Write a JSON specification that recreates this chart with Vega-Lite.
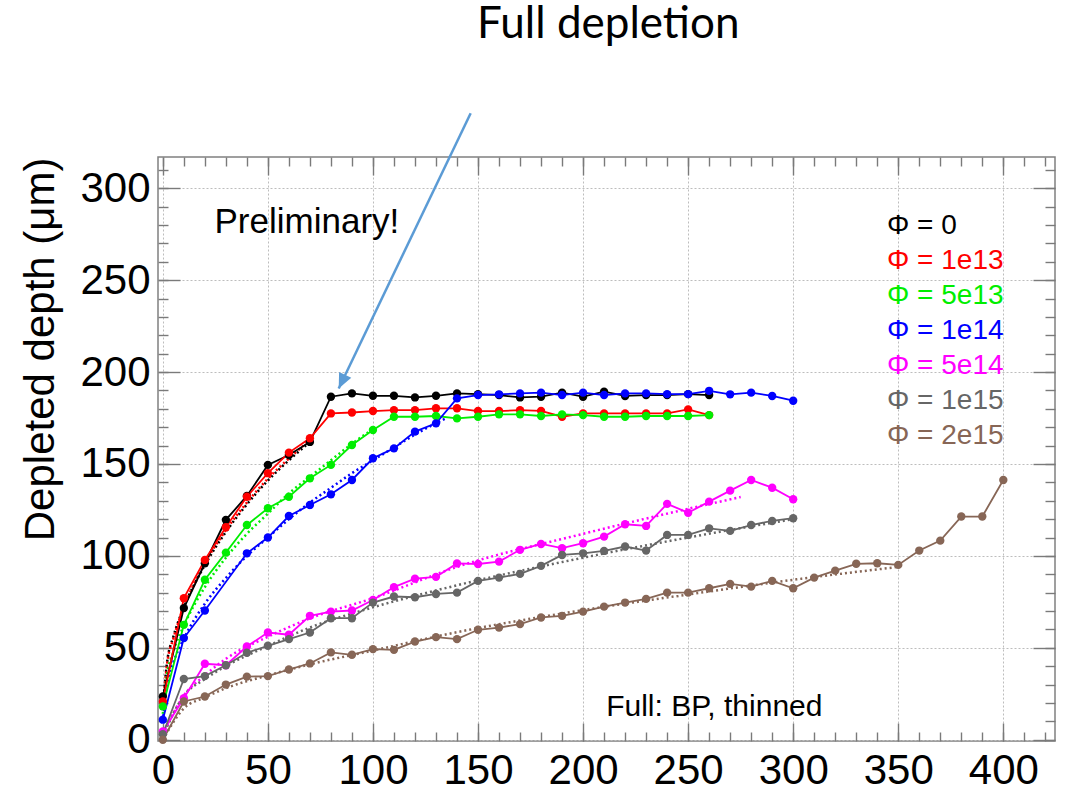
{
  "$schema": "https://vega.github.io/schema/vega-lite/v6.json",
  "width": 897,
  "height": 584,
  "autosize": "none",
  "padding": {"left": 158, "top": 157, "right": 16, "bottom": 48},
  "background": "white",
  "config": {
    "view": {"stroke": "#808080", "strokeWidth": 1.5},
    "font": "Liberation Sans",
    "axis": {"domain": false, "tickColor": "#7a7a7a", "tickWidth": 1.4, "labelFlush": false, "labelOverlap": false, "labelBound": false, "gridColor": "#bdbdbd", "gridDash": [2, 2], "gridWidth": 1}
  },
  "datasets": {
    "meas": [
      {"s":"Φ = 0","x":0,"y":23.5},{"s":"Φ = 0","x":10,"y":71.6},{"s":"Φ = 0","x":20,"y":96},{"s":"Φ = 0","x":30,"y":119.6},{"s":"Φ = 0","x":40,"y":132.6},{"s":"Φ = 0","x":50,"y":149.5},{"s":"Φ = 0","x":60,"y":154.9},{"s":"Φ = 0","x":70,"y":162},{"s":"Φ = 0","x":80,"y":186.6},{"s":"Φ = 0","x":90,"y":188.4},{"s":"Φ = 0","x":100,"y":187.1},{"s":"Φ = 0","x":110,"y":187.1},{"s":"Φ = 0","x":120,"y":186.2},{"s":"Φ = 0","x":130,"y":187.1},{"s":"Φ = 0","x":140,"y":188.4},{"s":"Φ = 0","x":150,"y":188},{"s":"Φ = 0","x":160,"y":187.5},{"s":"Φ = 0","x":170,"y":186.2},{"s":"Φ = 0","x":180,"y":186.6},{"s":"Φ = 0","x":190,"y":188.8},{"s":"Φ = 0","x":200,"y":186.6},{"s":"Φ = 0","x":210,"y":189.3},{"s":"Φ = 0","x":220,"y":187},{"s":"Φ = 0","x":230,"y":187.5},{"s":"Φ = 0","x":240,"y":187.5},{"s":"Φ = 0","x":250,"y":188},{"s":"Φ = 0","x":260,"y":187.5},
      {"s":"Φ = 1e13","x":0,"y":20.8},{"s":"Φ = 1e13","x":10,"y":77},{"s":"Φ = 1e13","x":20,"y":97.8},{"s":"Φ = 1e13","x":30,"y":115.6},{"s":"Φ = 1e13","x":40,"y":132.2},{"s":"Φ = 1e13","x":50,"y":145},{"s":"Φ = 1e13","x":60,"y":156.2},{"s":"Φ = 1e13","x":70,"y":164},{"s":"Φ = 1e13","x":80,"y":177.5},{"s":"Φ = 1e13","x":90,"y":178},{"s":"Φ = 1e13","x":100,"y":178.8},{"s":"Φ = 1e13","x":110,"y":179.3},{"s":"Φ = 1e13","x":120,"y":179.3},{"s":"Φ = 1e13","x":130,"y":180.3},{"s":"Φ = 1e13","x":140,"y":180.3},{"s":"Φ = 1e13","x":150,"y":178.8},{"s":"Φ = 1e13","x":160,"y":178.8},{"s":"Φ = 1e13","x":170,"y":179.3},{"s":"Φ = 1e13","x":180,"y":178.9},{"s":"Φ = 1e13","x":190,"y":175.7},{"s":"Φ = 1e13","x":200,"y":177.5},{"s":"Φ = 1e13","x":210,"y":177.5},{"s":"Φ = 1e13","x":220,"y":177.5},{"s":"Φ = 1e13","x":230,"y":177.5},{"s":"Φ = 1e13","x":240,"y":177.5},{"s":"Φ = 1e13","x":250,"y":179.7},{"s":"Φ = 1e13","x":260,"y":176.6},
      {"s":"Φ = 5e13","x":0,"y":18.1},{"s":"Φ = 5e13","x":10,"y":62.5},{"s":"Φ = 5e13","x":20,"y":87},{"s":"Φ = 5e13","x":30,"y":101.8},{"s":"Φ = 5e13","x":40,"y":116.8},{"s":"Φ = 5e13","x":50,"y":125.9},{"s":"Φ = 5e13","x":60,"y":132.2},{"s":"Φ = 5e13","x":70,"y":142.2},{"s":"Φ = 5e13","x":80,"y":149.5},{"s":"Φ = 5e13","x":90,"y":160.3},{"s":"Φ = 5e13","x":100,"y":168.5},{"s":"Φ = 5e13","x":110,"y":175.7},{"s":"Φ = 5e13","x":120,"y":175.7},{"s":"Φ = 5e13","x":130,"y":176.1},{"s":"Φ = 5e13","x":140,"y":174.8},{"s":"Φ = 5e13","x":150,"y":175.7},{"s":"Φ = 5e13","x":160,"y":177},{"s":"Φ = 5e13","x":170,"y":177},{"s":"Φ = 5e13","x":180,"y":176.1},{"s":"Φ = 5e13","x":190,"y":177},{"s":"Φ = 5e13","x":200,"y":176.6},{"s":"Φ = 5e13","x":210,"y":175.7},{"s":"Φ = 5e13","x":220,"y":175.7},{"s":"Φ = 5e13","x":230,"y":176.1},{"s":"Φ = 5e13","x":240,"y":176.1},{"s":"Φ = 5e13","x":250,"y":176.1},{"s":"Φ = 5e13","x":260,"y":176.6},
      {"s":"Φ = 1e14","x":0,"y":10.9},{"s":"Φ = 1e14","x":10,"y":55.3},{"s":"Φ = 1e14","x":20,"y":70.3},{"s":"Φ = 1e14","x":40,"y":101.4},{"s":"Φ = 1e14","x":50,"y":110},{"s":"Φ = 1e14","x":60,"y":121.7},{"s":"Φ = 1e14","x":70,"y":127.7},{"s":"Φ = 1e14","x":80,"y":133.5},{"s":"Φ = 1e14","x":90,"y":141.3},{"s":"Φ = 1e14","x":100,"y":153.1},{"s":"Φ = 1e14","x":110,"y":158.5},{"s":"Φ = 1e14","x":120,"y":167.6},{"s":"Φ = 1e14","x":130,"y":172.1},{"s":"Φ = 1e14","x":140,"y":185.7},{"s":"Φ = 1e14","x":150,"y":187.5},{"s":"Φ = 1e14","x":160,"y":187.9},{"s":"Φ = 1e14","x":170,"y":188.4},{"s":"Φ = 1e14","x":180,"y":188.8},{"s":"Φ = 1e14","x":190,"y":187.5},{"s":"Φ = 1e14","x":200,"y":188.8},{"s":"Φ = 1e14","x":210,"y":187.5},{"s":"Φ = 1e14","x":220,"y":188.4},{"s":"Φ = 1e14","x":230,"y":188.4},{"s":"Φ = 1e14","x":240,"y":188},{"s":"Φ = 1e14","x":250,"y":188},{"s":"Φ = 1e14","x":260,"y":189.8},{"s":"Φ = 1e14","x":270,"y":187.9},{"s":"Φ = 1e14","x":280,"y":188.8},{"s":"Φ = 1e14","x":290,"y":187},{"s":"Φ = 1e14","x":300,"y":184.4},
      {"s":"Φ = 5e14","x":0,"y":4.5},{"s":"Φ = 5e14","x":10,"y":22.6},{"s":"Φ = 5e14","x":20,"y":41.3},{"s":"Φ = 5e14","x":30,"y":40.5},{"s":"Φ = 5e14","x":40,"y":50.7},{"s":"Φ = 5e14","x":50,"y":58.3},{"s":"Φ = 5e14","x":60,"y":57.1},{"s":"Φ = 5e14","x":70,"y":67.4},{"s":"Φ = 5e14","x":80,"y":69.7},{"s":"Φ = 5e14","x":90,"y":70.3},{"s":"Φ = 5e14","x":100,"y":76},{"s":"Φ = 5e14","x":110,"y":83},{"s":"Φ = 5e14","x":120,"y":87.6},{"s":"Φ = 5e14","x":130,"y":88.6},{"s":"Φ = 5e14","x":140,"y":95.9},{"s":"Φ = 5e14","x":150,"y":95.6},{"s":"Φ = 5e14","x":160,"y":96.9},{"s":"Φ = 5e14","x":170,"y":103.3},{"s":"Φ = 5e14","x":180,"y":106.5},{"s":"Φ = 5e14","x":190,"y":104.2},{"s":"Φ = 5e14","x":200,"y":106.9},{"s":"Φ = 5e14","x":210,"y":110.5},{"s":"Φ = 5e14","x":220,"y":117.2},{"s":"Φ = 5e14","x":230,"y":116.3},{"s":"Φ = 5e14","x":240,"y":128.3},{"s":"Φ = 5e14","x":250,"y":123.5},{"s":"Φ = 5e14","x":260,"y":129.5},{"s":"Φ = 5e14","x":270,"y":135.5},{"s":"Φ = 5e14","x":280,"y":141.3},{"s":"Φ = 5e14","x":290,"y":137.1},{"s":"Φ = 5e14","x":300,"y":130.8},
      {"s":"Φ = 1e15","x":0,"y":3},{"s":"Φ = 1e15","x":10,"y":33},{"s":"Φ = 1e15","x":20,"y":34.6},{"s":"Φ = 1e15","x":30,"y":40.5},{"s":"Φ = 1e15","x":40,"y":47.3},{"s":"Φ = 1e15","x":50,"y":51.1},{"s":"Φ = 1e15","x":60,"y":54.7},{"s":"Φ = 1e15","x":70,"y":58.3},{"s":"Φ = 1e15","x":80,"y":66.1},{"s":"Φ = 1e15","x":90,"y":66.1},{"s":"Φ = 1e15","x":100,"y":74.6},{"s":"Φ = 1e15","x":110,"y":77.9},{"s":"Φ = 1e15","x":120,"y":77.5},{"s":"Φ = 1e15","x":130,"y":79.3},{"s":"Φ = 1e15","x":140,"y":80},{"s":"Φ = 1e15","x":150,"y":86.4},{"s":"Φ = 1e15","x":160,"y":88.2},{"s":"Φ = 1e15","x":170,"y":90.2},{"s":"Φ = 1e15","x":180,"y":94.6},{"s":"Φ = 1e15","x":190,"y":100.5},{"s":"Φ = 1e15","x":200,"y":101.4},{"s":"Φ = 1e15","x":210,"y":102.7},{"s":"Φ = 1e15","x":220,"y":105.1},{"s":"Φ = 1e15","x":230,"y":102.9},{"s":"Φ = 1e15","x":240,"y":111.4},{"s":"Φ = 1e15","x":250,"y":111.4},{"s":"Φ = 1e15","x":260,"y":115},{"s":"Φ = 1e15","x":270,"y":113.6},{"s":"Φ = 1e15","x":280,"y":116.8},{"s":"Φ = 1e15","x":290,"y":119},{"s":"Φ = 1e15","x":300,"y":120.5},
      {"s":"Φ = 2e15","x":0,"y":0},{"s":"Φ = 2e15","x":10,"y":20.8},{"s":"Φ = 2e15","x":20,"y":23.5},{"s":"Φ = 2e15","x":30,"y":30},{"s":"Φ = 2e15","x":40,"y":34.3},{"s":"Φ = 2e15","x":50,"y":34.6},{"s":"Φ = 2e15","x":60,"y":38.2},{"s":"Φ = 2e15","x":70,"y":41.5},{"s":"Φ = 2e15","x":80,"y":47.5},{"s":"Φ = 2e15","x":90,"y":46.2},{"s":"Φ = 2e15","x":100,"y":49.3},{"s":"Φ = 2e15","x":110,"y":48.9},{"s":"Φ = 2e15","x":120,"y":53.4},{"s":"Φ = 2e15","x":130,"y":55.8},{"s":"Φ = 2e15","x":140,"y":54.7},{"s":"Φ = 2e15","x":150,"y":59.8},{"s":"Φ = 2e15","x":160,"y":61},{"s":"Φ = 2e15","x":170,"y":62.9},{"s":"Φ = 2e15","x":180,"y":66.5},{"s":"Φ = 2e15","x":190,"y":67.4},{"s":"Φ = 2e15","x":200,"y":69.7},{"s":"Φ = 2e15","x":210,"y":72.4},{"s":"Φ = 2e15","x":220,"y":74.6},{"s":"Φ = 2e15","x":230,"y":76.6},{"s":"Φ = 2e15","x":240,"y":80},{"s":"Φ = 2e15","x":250,"y":80},{"s":"Φ = 2e15","x":260,"y":82.4},{"s":"Φ = 2e15","x":270,"y":84.8},{"s":"Φ = 2e15","x":280,"y":83.3},{"s":"Φ = 2e15","x":290,"y":86.4},{"s":"Φ = 2e15","x":300,"y":82.4},{"s":"Φ = 2e15","x":310,"y":88.2},{"s":"Φ = 2e15","x":320,"y":92},{"s":"Φ = 2e15","x":330,"y":95.7},{"s":"Φ = 2e15","x":340,"y":96},{"s":"Φ = 2e15","x":350,"y":95.1},{"s":"Φ = 2e15","x":360,"y":102.9},{"s":"Φ = 2e15","x":370,"y":108.3},{"s":"Φ = 2e15","x":380,"y":121.4},{"s":"Φ = 2e15","x":390,"y":121.4},{"s":"Φ = 2e15","x":400,"y":141.3}
    ],
    "fit": [
      {"s":"Φ = 0","x":0,"y":18},{"s":"Φ = 0","x":2,"y":42},{"s":"Φ = 0","x":5,"y":56},{"s":"Φ = 0","x":10,"y":72},{"s":"Φ = 0","x":20,"y":95},{"s":"Φ = 0","x":30,"y":113},{"s":"Φ = 0","x":40,"y":128},{"s":"Φ = 0","x":50,"y":141},{"s":"Φ = 0","x":60,"y":152},{"s":"Φ = 0","x":70,"y":162},
      {"s":"Φ = 1e13","x":0,"y":17},{"s":"Φ = 1e13","x":2,"y":41},{"s":"Φ = 1e13","x":5,"y":55},{"s":"Φ = 1e13","x":10,"y":72},{"s":"Φ = 1e13","x":20,"y":96},{"s":"Φ = 1e13","x":30,"y":114},{"s":"Φ = 1e13","x":40,"y":129},{"s":"Φ = 1e13","x":50,"y":142},{"s":"Φ = 1e13","x":60,"y":153},{"s":"Φ = 1e13","x":70,"y":163},
      {"s":"Φ = 5e13","x":0,"y":14},{"s":"Φ = 5e13","x":2,"y":35},{"s":"Φ = 5e13","x":5,"y":48},{"s":"Φ = 5e13","x":10,"y":62},{"s":"Φ = 5e13","x":20,"y":83},{"s":"Φ = 5e13","x":30,"y":99},{"s":"Φ = 5e13","x":40,"y":112},{"s":"Φ = 5e13","x":50,"y":123},{"s":"Φ = 5e13","x":60,"y":134},{"s":"Φ = 5e13","x":70,"y":143},{"s":"Φ = 5e13","x":80,"y":152},{"s":"Φ = 5e13","x":90,"y":161},{"s":"Φ = 5e13","x":100,"y":169},
      {"s":"Φ = 1e14","x":0,"y":10},{"s":"Φ = 1e14","x":2,"y":30},{"s":"Φ = 1e14","x":5,"y":42},{"s":"Φ = 1e14","x":10,"y":55},{"s":"Φ = 1e14","x":20,"y":74},{"s":"Φ = 1e14","x":30,"y":88},{"s":"Φ = 1e14","x":40,"y":100},{"s":"Φ = 1e14","x":50,"y":110},{"s":"Φ = 1e14","x":60,"y":120},{"s":"Φ = 1e14","x":70,"y":129},{"s":"Φ = 1e14","x":80,"y":137},{"s":"Φ = 1e14","x":90,"y":145},{"s":"Φ = 1e14","x":100,"y":152},{"s":"Φ = 1e14","x":110,"y":159},{"s":"Φ = 1e14","x":120,"y":166},{"s":"Φ = 1e14","x":135,"y":175},
      {"s":"Φ = 5e14","x":0,"y":3},{"s":"Φ = 5e14","x":10,"y":24},{"s":"Φ = 5e14","x":20,"y":35},{"s":"Φ = 5e14","x":30,"y":44},{"s":"Φ = 5e14","x":50,"y":56},{"s":"Φ = 5e14","x":70,"y":66},{"s":"Φ = 5e14","x":100,"y":77},{"s":"Φ = 5e14","x":140,"y":94},{"s":"Φ = 5e14","x":200,"y":112},{"s":"Φ = 5e14","x":240,"y":123},{"s":"Φ = 5e14","x":275,"y":132},
      {"s":"Φ = 1e15","x":0,"y":2},{"s":"Φ = 1e15","x":10,"y":24},{"s":"Φ = 1e15","x":20,"y":33},{"s":"Φ = 1e15","x":30,"y":40},{"s":"Φ = 1e15","x":50,"y":51},{"s":"Φ = 1e15","x":70,"y":61},{"s":"Φ = 1e15","x":100,"y":72},{"s":"Φ = 1e15","x":140,"y":84},{"s":"Φ = 1e15","x":200,"y":99},{"s":"Φ = 1e15","x":250,"y":110},{"s":"Φ = 1e15","x":300,"y":120},
      {"s":"Φ = 2e15","x":0,"y":0},{"s":"Φ = 2e15","x":10,"y":17},{"s":"Φ = 2e15","x":20,"y":23},{"s":"Φ = 2e15","x":30,"y":28},{"s":"Φ = 2e15","x":50,"y":35},{"s":"Φ = 2e15","x":70,"y":41},{"s":"Φ = 2e15","x":100,"y":48.5},{"s":"Φ = 2e15","x":140,"y":58.5},{"s":"Φ = 2e15","x":200,"y":70.5},{"s":"Φ = 2e15","x":250,"y":79},{"s":"Φ = 2e15","x":300,"y":87},{"s":"Φ = 2e15","x":350,"y":94}
    ],
    "arrow": [{"x":146.5,"y":340.8},{"x":83.7,"y":191.1}],
    "one": [{}]
  },
  "resolve": {"axis": {"x": "independent", "y": "independent"}},
  "layer": [
    {
      "data": {"name": "fit"},
      "mark": {"type": "line", "strokeDash": [2, 3], "strokeWidth": 2.5, "interpolate": "monotone"},
      "encoding": {
        "x": {"field": "x", "type": "quantitative", "scale": {"domain": [-2.3, 424.6], "nice": false, "zero": false},
              "axis": {"orient": "bottom", "values": [0,10,20,30,40,50,60,70,80,90,100,110,120,130,140,150,160,170,180,190,200,210,220,230,240,250,260,270,280,290,300,310,320,330,340,350,360,370,380,390,400,410,420], "tickSize": -9, "labels": false, "grid": false, "title": null}},
        "y": {"field": "y", "type": "quantitative", "scale": {"domain": [-0.7, 317], "nice": false, "zero": false},
              "axis": {"orient": "left", "values": [0,10,20,30,40,50,60,70,80,90,100,110,120,130,140,150,160,170,180,190,200,210,220,230,240,250,260,270,280,290,300,310], "tickSize": -10, "labels": false, "grid": false, "title": null}},
        "color": {"field": "s", "type": "nominal",
                  "scale": {"domain": ["Φ = 0","Φ = 1e13","Φ = 5e13","Φ = 1e14","Φ = 5e14","Φ = 1e15","Φ = 2e15"], "range": ["#000000","#ff0000","#00ee00","#0000ff","#ff00ff","#666666","#876656"]},
                  "legend": {"orient": "none", "legendX": 701, "legendY": 55, "title": null, "padding": 0, "symbolOpacity": 0, "symbolSize": 0, "symbolStrokeWidth": 0, "labelOffset": 0, "labelFont": "Liberation Sans", "labelFontSize": 28, "rowPadding": 7, "labelColor": {"expr": "scale('color', datum.value)"}}}
      }
    },
    {
      "data": {"name": "meas"},
      "mark": {"type": "line", "strokeWidth": 1.8, "point": {"filled": true, "size": 70, "opacity": 1}},
      "encoding": {
        "x": {"field": "x", "type": "quantitative", "scale": {"domain": [-2.3, 424.6], "nice": false, "zero": false},
              "axis": {"orient": "bottom", "values": [0,50,100,150,200,250,300,350,400], "tickSize": -18, "labelPadding": 27, "labelFontSize": 42, "labelColor": "#000000", "grid": true, "title": null}},
        "y": {"field": "y", "type": "quantitative", "scale": {"domain": [-0.7, 317], "nice": false, "zero": false},
              "axis": {"orient": "left", "values": [0,50,100,150,200,250,300], "tickSize": -22, "labelPadding": 30, "labelFontSize": 42, "labelColor": "#000000", "grid": true,
                       "title": "Depleted depth (μm)", "titleFontSize": 42, "titleFontWeight": "normal", "titleColor": "#000000", "titleAnchor": "end", "titlePadding": 17}},
        "color": {"field": "s", "type": "nominal",
                  "scale": {"domain": ["Φ = 0","Φ = 1e13","Φ = 5e13","Φ = 1e14","Φ = 5e14","Φ = 1e15","Φ = 2e15"], "range": ["#000000","#ff0000","#00ee00","#0000ff","#ff00ff","#666666","#876656"]},
                  "legend": {"orient": "none", "legendX": 701, "legendY": 55, "title": null, "padding": 0, "symbolOpacity": 0, "symbolSize": 0, "symbolStrokeWidth": 0, "labelOffset": 0, "labelFont": "Liberation Sans", "labelFontSize": 28, "rowPadding": 7, "labelColor": {"expr": "scale('color', datum.value)"}}}
      }
    },
    {
      "data": {"name": "one"},
      "mark": {"type": "text", "align": "left", "baseline": "alphabetic", "fontSize": 35, "font": "Liberation Sans", "color": "#000000", "clip": false},
      "encoding": {
        "x": {"datum": 24.6, "type": "quantitative", "scale": {"domain": [-2.3, 424.6], "nice": false, "zero": false},
              "axis": {"orient": "top", "values": [0,50,100,150,200,250,300,350,400], "tickSize": -18, "labels": false, "grid": false, "title": null}},
        "y": {"datum": 275.5, "type": "quantitative", "scale": {"domain": [-0.7, 317], "nice": false, "zero": false},
              "axis": {"orient": "right", "values": [0,50,100,150,200,250,300], "tickSize": -22, "labels": false, "grid": false, "title": null}},
        "text": {"value": "Preliminary!"}
      }
    },
    {
      "data": {"name": "one"},
      "mark": {"type": "text", "align": "left", "baseline": "alphabetic", "fontSize": 30, "font": "Liberation Sans", "color": "#000000", "clip": false},
      "encoding": {
        "x": {"datum": 211, "type": "quantitative", "scale": {"domain": [-2.3, 424.6], "nice": false, "zero": false},
              "axis": {"orient": "top", "values": [0,10,20,30,40,50,60,70,80,90,100,110,120,130,140,150,160,170,180,190,200,210,220,230,240,250,260,270,280,290,300,310,320,330,340,350,360,370,380,390,400,410,420], "tickSize": -9, "labels": false, "grid": false, "title": null}},
        "y": {"datum": 12.7, "type": "quantitative", "scale": {"domain": [-0.7, 317], "nice": false, "zero": false},
              "axis": {"orient": "right", "values": [0,10,20,30,40,50,60,70,80,90,100,110,120,130,140,150,160,170,180,190,200,210,220,230,240,250,260,270,280,290,300,310], "tickSize": -10, "labels": false, "grid": false, "title": null}},
        "text": {"value": "Full: BP, thinned"}
      }
    },
    {
      "data": {"name": "arrow"},
      "mark": {"type": "line", "color": "#5b9bd5", "strokeWidth": 2.5, "clip": false},
      "encoding": {
        "x": {"field": "x", "type": "quantitative", "scale": {"domain": [-2.3, 424.6], "nice": false, "zero": false}, "axis": null},
        "y": {"field": "y", "type": "quantitative", "scale": {"domain": [-0.7, 317], "nice": false, "zero": false}, "axis": null},
        "order": {"field": "y", "type": "quantitative", "sort": "descending"}
      }
    },
    {
      "data": {"name": "one"},
      "mark": {"type": "point", "shape": "M0,0L0.45,1L-0.45,1Z", "filled": true, "color": "#5b9bd5", "opacity": 1, "size": 900, "angle": 205.6, "clip": false},
      "encoding": {
        "x": {"datum": 83.7, "type": "quantitative", "scale": {"domain": [-2.3, 424.6], "nice": false, "zero": false}, "axis": null},
        "y": {"datum": 191.1, "type": "quantitative", "scale": {"domain": [-0.7, 317], "nice": false, "zero": false}, "axis": null}
      }
    },
    {
      "data": {"name": "one"},
      "mark": {"type": "text", "align": "center", "baseline": "alphabetic", "fontSize": 44, "font": "Lato", "color": "#000000", "clip": false},
      "encoding": {
        "x": {"datum": 212, "type": "quantitative", "scale": {"domain": [-2.3, 424.6], "nice": false, "zero": false}, "axis": null},
        "y": {"datum": 381.5, "type": "quantitative", "scale": {"domain": [-0.7, 317], "nice": false, "zero": false}, "axis": null},
        "text": {"value": "Full depletion"}
      }
    }
  ]
}
